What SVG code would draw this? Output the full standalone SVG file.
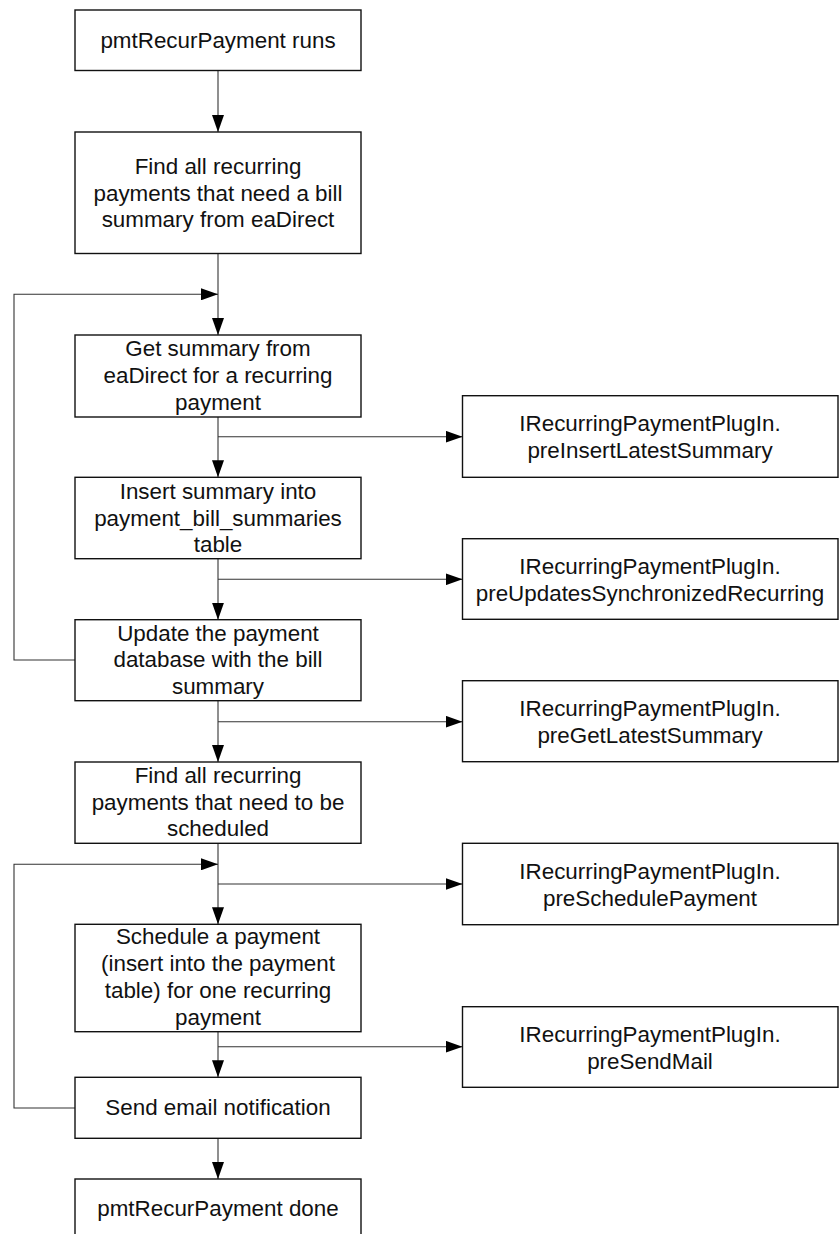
<svg xmlns="http://www.w3.org/2000/svg" width="839" height="1234" viewBox="0 0 839 1234">
  <style>
    .box { fill: #ffffff; stroke: #111111; stroke-width: 1.4; }
    .lbl { font-family: "Liberation Sans", Arial, sans-serif; font-size: 22.4px; fill: #111111; text-anchor: middle; }
    .wire { fill: none; stroke: #333333; stroke-width: 1.1; }
  </style>
  <defs>
    <marker id="arrow" markerWidth="18" markerHeight="12" refX="17" refY="6" orient="auto" markerUnits="userSpaceOnUse">
      <path d="M0,0 L17,6 L0,12 Z" fill="#000000"/>
    </marker>
  </defs>
  <rect width="839" height="1234" fill="#ffffff"/>

  <!-- connectors -->
  <g id="connectors">
    <path class="wire" d="M218,70.5 V132" marker-end="url(#arrow)"/>
    <path class="wire" d="M218,253.5 V335" marker-end="url(#arrow)"/>
    <path class="wire" d="M75,660 H14 V294.3 H218" marker-end="url(#arrow)"/>
    <path class="wire" d="M218,417 V477.3" marker-end="url(#arrow)"/>
    <path class="wire" d="M218,436.7 H462.5" marker-end="url(#arrow)"/>
    <path class="wire" d="M218,558.7 V619.7" marker-end="url(#arrow)"/>
    <path class="wire" d="M218,579.3 H462.5" marker-end="url(#arrow)"/>
    <path class="wire" d="M218,700.7 V762" marker-end="url(#arrow)"/>
    <path class="wire" d="M218,721.7 H462.5" marker-end="url(#arrow)"/>
    <path class="wire" d="M218,843.3 V924.3" marker-end="url(#arrow)"/>
    <path class="wire" d="M75,1108 H14 V864.3 H218" marker-end="url(#arrow)"/>
    <path class="wire" d="M218,884 H462.5" marker-end="url(#arrow)"/>
    <path class="wire" d="M218,1031.7 V1077.3" marker-end="url(#arrow)"/>
    <path class="wire" d="M218,1046.7 H462.5" marker-end="url(#arrow)"/>
    <path class="wire" d="M218,1138.3 V1179" marker-end="url(#arrow)"/>
  </g>

  <!-- main flow -->
  <g id="start">
    <rect class="box" x="75" y="10" width="286" height="60.5"/>
    <text class="lbl" x="218" y="47.5">pmtRecurPayment runs</text>
  </g>
  <g id="find-summaries">
    <rect class="box" x="75" y="132" width="286" height="121.5"/>
    <text class="lbl" x="218" y="174">Find all recurring</text>
    <text class="lbl" x="218" y="200.8">payments that need a bill</text>
    <text class="lbl" x="218" y="227.4">summary from eaDirect</text>
  </g>
  <g id="get-summary">
    <rect class="box" x="75" y="335" width="286" height="82"/>
    <text class="lbl" x="218" y="356.4">Get summary from</text>
    <text class="lbl" x="218" y="383.2">eaDirect for a recurring</text>
    <text class="lbl" x="218" y="409.8">payment</text>
  </g>
  <g id="insert-summary">
    <rect class="box" x="75" y="477.3" width="286" height="81.4"/>
    <text class="lbl" x="218" y="498.8">Insert summary into</text>
    <text class="lbl" x="218" y="525.8">payment_bill_summaries</text>
    <text class="lbl" x="218" y="552.2">table</text>
  </g>
  <g id="update-db">
    <rect class="box" x="75" y="619.7" width="286" height="81"/>
    <text class="lbl" x="218" y="640.6">Update the payment</text>
    <text class="lbl" x="218" y="667.4">database with the bill</text>
    <text class="lbl" x="218" y="693.8">summary</text>
  </g>
  <g id="find-schedulable">
    <rect class="box" x="75" y="762" width="286" height="81.3"/>
    <text class="lbl" x="218" y="783">Find all recurring</text>
    <text class="lbl" x="218" y="809.8">payments that need to be</text>
    <text class="lbl" x="218" y="836.4">scheduled</text>
  </g>
  <g id="schedule-payment">
    <rect class="box" x="75" y="924.3" width="286" height="107.4"/>
    <text class="lbl" x="218" y="944">Schedule a payment</text>
    <text class="lbl" x="218" y="971.2">(insert into the payment</text>
    <text class="lbl" x="218" y="998.2">table) for one recurring</text>
    <text class="lbl" x="218" y="1025.2">payment</text>
  </g>
  <g id="send-email">
    <rect class="box" x="75" y="1077.3" width="286" height="61"/>
    <text class="lbl" x="218" y="1115.4">Send email notification</text>
  </g>
  <g id="done">
    <rect class="box" x="75" y="1179" width="286" height="70"/>
    <text class="lbl" x="218" y="1215.6">pmtRecurPayment done</text>
  </g>

  <!-- plug-in hooks -->
  <g id="hook-insert-latest">
    <rect class="box" x="462.5" y="395.7" width="375.5" height="81.6"/>
    <text class="lbl" x="650" y="431.2">IRecurringPaymentPlugIn.</text>
    <text class="lbl" x="650" y="458.2">preInsertLatestSummary</text>
  </g>
  <g id="hook-updates-synchronized">
    <rect class="box" x="462.5" y="538.7" width="375.5" height="80.6"/>
    <text class="lbl" x="650" y="574">IRecurringPaymentPlugIn.</text>
    <text class="lbl" x="650" y="601">preUpdatesSynchronizedRecurring</text>
  </g>
  <g id="hook-get-latest">
    <rect class="box" x="462.5" y="680.7" width="375.5" height="81"/>
    <text class="lbl" x="650" y="716.2">IRecurringPaymentPlugIn.</text>
    <text class="lbl" x="650" y="743.2">preGetLatestSummary</text>
  </g>
  <g id="hook-schedule-payment">
    <rect class="box" x="462.5" y="843.3" width="375.5" height="81.4"/>
    <text class="lbl" x="650" y="878.6">IRecurringPaymentPlugIn.</text>
    <text class="lbl" x="650" y="905.6">preSchedulePayment</text>
  </g>
  <g id="hook-send-mail">
    <rect class="box" x="462.5" y="1006.7" width="375.5" height="80.6"/>
    <text class="lbl" x="650" y="1042">IRecurringPaymentPlugIn.</text>
    <text class="lbl" x="650" y="1069">preSendMail</text>
  </g>
</svg>
